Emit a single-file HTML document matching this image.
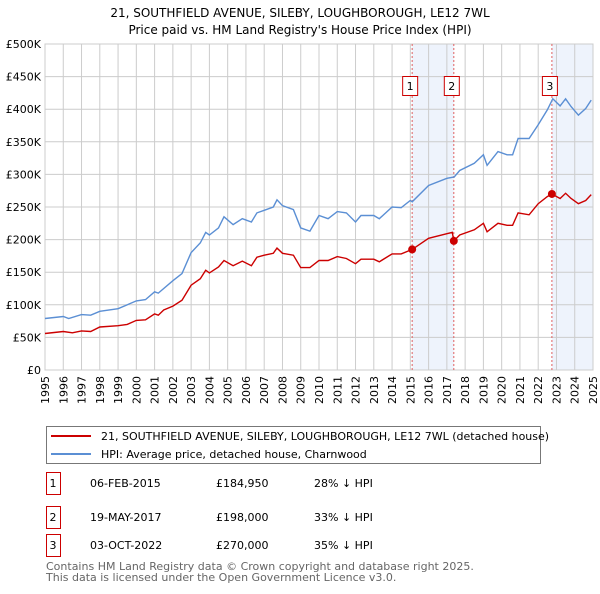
<!DOCTYPE html>
<html><head><meta charset="utf-8"><style>
body{margin:0;background:#fff;font-family:"DejaVu Sans","Liberation Sans",sans-serif;}
svg text{font-family:"DejaVu Sans","Liberation Sans",sans-serif;}
</style></head><body>
<svg id="c" width="600" height="590" viewBox="0 0 600 590">
<text x="300" y="17" text-anchor="middle" font-size="12" fill="#000">21, SOUTHFIELD AVENUE, SILEBY, LOUGHBOROUGH, LE12 7WL</text>
<text x="300" y="34" text-anchor="middle" font-size="12" fill="#000">Price paid vs. HM Land Registry's House Price Index (HPI)</text>
<g id="plot"></g>
<g>
<rect x="46.5" y="426.5" width="494" height="37" fill="#fff" stroke="#777"/>
<line x1="51" y1="436" x2="91" y2="436" stroke="#cc0000" stroke-width="2"/>
<text x="101" y="440" font-size="11">21, SOUTHFIELD AVENUE, SILEBY, LOUGHBOROUGH, LE12 7WL (detached house)</text>
<line x1="51" y1="454" x2="91" y2="454" stroke="#5b8fd4" stroke-width="2"/>
<text x="101" y="458" font-size="11">HPI: Average price, detached house, Charnwood</text>
</g>
<g id="table" font-size="11"></g>
<text x="46" y="570" font-size="11" fill="#666">Contains HM Land Registry data © Crown copyright and database right 2025.</text>
<text x="46" y="581" font-size="11" fill="#666">This data is licensed under the Open Government Licence v3.0.</text>
</svg>
<script>
const hpiYears=[1995,1996,1996.3,1997,1997.5,1998,1999,2000,2000.5,2001,2001.2,2002,2002.5,2003,2003.5,2003.8,2004,2004.5,2004.8,2005.3,2005.8,2006.3,2006.6,2007,2007.5,2007.7,2008,2008.6,2009,2009.5,2010,2010.5,2011,2011.5,2012,2012.3,2013,2013.3,2014,2014.5,2015,2015.1,2016,2017,2017.4,2017.7,2018.5,2019,2019.2,2019.8,2020.3,2020.6,2020.9,2021.5,2022,2022.5,2022.8,2023.2,2023.5,2023.8,2024.2,2024.6,2024.9];
const hpiValues=[79,82,79,85,84,90,94,106,108,120,118,137,148,180,195,211,207,218,235,223,232,227,241,245,250,261,252,246,218,213,237,232,243,241,227,237,237,232,250,249,260,258,283,294,296,306,317,330,314,335,330,330,355,355,376,399,416,405,416,404,391,401,414];
const ppYears=[1995,1996,1996.5,1997,1997.5,1998,1999,1999.5,2000,2000.5,2001,2001.2,2001.5,2002,2002.5,2003,2003.5,2003.8,2004,2004.5,2004.8,2005.3,2005.8,2006.3,2006.6,2007,2007.5,2007.7,2008,2008.6,2009,2009.5,2010,2010.5,2011,2011.5,2012,2012.3,2013,2013.3,2014,2014.5,2015.1,2016,2017,2017.3,2017.38,2017.7,2018.5,2019,2019.2,2019.8,2020.3,2020.6,2020.9,2021.5,2022,2022.5,2022.75,2023.2,2023.5,2023.8,2024.2,2024.6,2024.9];
const ppValues=[56,59,57,60,59,66,68,70,76,77,86,84,92,98,107,130,140,153,149,158,168,160,167,160,173,176,179,187,179,176,157,157,168,168,174,171,163,170,170,166,178,178,185,202,209,211,198,207,215,225,212,225,222,222,241,238,255,266,270,263,271,263,255,260,269];
const saleYears=[2015.1,2017.38,2022.75];
const saleValues=[184.95,198,270];
const saleLabels=["1","2","3"];
const saleDates=["06-FEB-2015","19-MAY-2017","03-OCT-2022"];
const salePrices=["£184,950","£198,000","£270,000"];
const saleDiffs=["28% ↓ HPI","33% ↓ HPI","35% ↓ HPI"];
const yTicks=[0,50,100,150,200,250,300,350,400,450,500];
const yTickLabels=["£0","£50K","£100K","£150K","£200K","£250K","£300K","£350K","£400K","£450K","£500K"];
const xTicks=[1995,1996,1997,1998,1999,2000,2001,2002,2003,2004,2005,2006,2007,2008,2009,2010,2011,2012,2013,2014,2015,2016,2017,2018,2019,2020,2021,2022,2023,2024,2025];

const L=45,R=593,T=44,B=370;
const x=v=>L+(v-1995)/30*(R-L);
const y=v=>B-v/500*(B-T);
const NS="http://www.w3.org/2000/svg";
const g=document.getElementById('plot');
function mk(tag,attrs,parent){const e=document.createElementNS(NS,tag);for(const k in attrs)e.setAttribute(k,attrs[k]);(parent||g).appendChild(e);return e;}
const sh1=mk('rect',{x:x(saleYears[0]),y:T,width:x(saleYears[1])-x(saleYears[0]),height:B-T,fill:'#eef3fc'});


const sh2=mk('rect',{x:x(saleYears[2]),y:T,width:R-x(saleYears[2]),height:B-T,fill:'#eef3fc'});


yTicks.forEach((t,i)=>{
  const ln=mk('line',{x1:L,x2:R,y1:y(t),y2:y(t),stroke:'#cccccc'});
  
  
  const tx=mk('text',{x:L-4,y:y(t)+4,'text-anchor':'end','font-size':11,fill:'#000'});
  tx.textContent=yTickLabels[i];
  
  
});
xTicks.forEach(t=>{
  const ln=mk('line',{x1:x(t),x2:x(t),y1:T,y2:B,stroke:'#cccccc'});
  
  
  const tx=mk('text',{x:0,y:0,'text-anchor':'end','font-size':11,transform:`translate(${x(t)+4},${B+6}) rotate(-90)`});
  tx.textContent=t;
  
  
});
const fr=mk('rect',{x:L,y:T,width:R-L,height:B-T,fill:'none',stroke:'#cccccc'});


saleYears.forEach((s,i)=>{
  const ln=mk('line',{x1:x(s),x2:x(s),y1:T,y2:B,stroke:'#e06060','stroke-dasharray':'2,2'});
  
  
});
function path(xs,vs,col,name){
  const d=xs.map((v,i)=>(i?'L':'M')+x(v).toFixed(1)+','+y(vs[i]).toFixed(1)).join('');
  const p=mk('path',{d:d,fill:'none',stroke:col,'stroke-width':1.4});
  
  
}
path(hpiYears,hpiValues,'#5b8fd4','hpi-line');
path(ppYears,ppValues,'#cc0000','price-paid-line');
saleYears.forEach((s,i)=>{
  const c=mk('circle',{cx:x(s),cy:y(saleValues[i]),r:4,fill:'#cc0000'});
  
  
  const bx=mk('rect',{x:x(s)-9.5,y:76.5,width:15,height:19,fill:'#fff',stroke:'#cc0000'});
  
  
  const tx=mk('text',{x:x(s)-2,y:90,'text-anchor':'middle','font-size':11});
  tx.textContent=saleLabels[i];
  
  
});
const tb=document.getElementById('table');
const rowY=[472,506,534];
saleLabels.forEach((lab,i)=>{
  const yy=rowY[i];
  const b=mk('rect',{x:46.5,y:yy+0.5,width:14,height:22,fill:'#fff',stroke:'#cc0000'},tb);
  
  
  const cols=[[53,lab,'middle'],[90,saleDates[i],'start'],[216,salePrices[i],'start'],[314,saleDiffs[i],'start']];
  cols.forEach(c=>{
    const t=mk('text',{x:c[0],y:yy+15,'text-anchor':c[2]},tb);
    t.textContent=c[1];
    
    
  });
});
</script>
</body></html>
